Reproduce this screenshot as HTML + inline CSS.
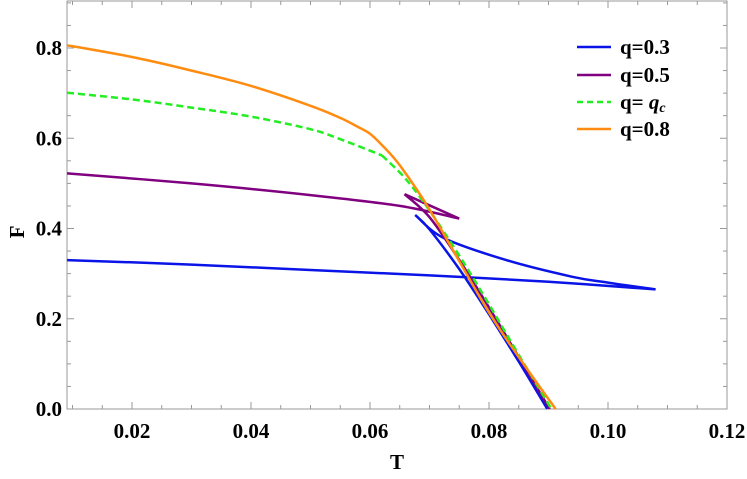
<!DOCTYPE html>
<html><head><meta charset="utf-8"><style>
body{margin:0;background:#fff}
svg text{font-family:"Liberation Serif",serif;font-weight:bold}
</style></head><body>
<svg id="chart" width="747" height="474" viewBox="0 0 747 474" xmlns="http://www.w3.org/2000/svg">
<g id="axes"></g>
<g id="series"></g>
<g id="legend"></g>
<text x="397" y="469" font-size="21" text-anchor="middle">T</text>
<text x="24" y="232" font-size="21" text-anchor="middle" transform="rotate(-90 24 232)">F</text>
</svg>
<script>
const xTicks=[0.02,0.04,0.06,0.08,0.10,0.12];
const xTickLabels=["0.02","0.04","0.06","0.08","0.10","0.12"];
const yTicks=[0,0.2,0.4,0.6,0.8];
const yTickLabels=["0.0","0.2","0.4","0.6","0.8"];
const q03T=[0.0091,0.03,0.05,0.07,0.09,0.108,0.100,0.094,0.0829,0.0724,0.0676,0.070,0.075,0.080,0.085,0.0898];
const q03F=[0.330,0.320,0.308,0.296,0.282,0.265,0.280,0.293,0.330,0.379,0.430,0.398,0.310,0.210,0.105,0.000];
const q03Cusps=[5,10];
const q05T=[0.0091,0.03,0.05,0.065,0.075,0.0658,0.070,0.075,0.080,0.085,0.0902];
const q05F=[0.522,0.500,0.474,0.450,0.422,0.476,0.425,0.330,0.225,0.115,0.000];
const q05Cusps=[4,5];
const qcT=[0.0091,0.02,0.03,0.04,0.05,0.055,0.062,0.066,0.070,0.075,0.080,0.085,0.0905];
const qcF=[0.701,0.686,0.668,0.648,0.620,0.598,0.562,0.510,0.440,0.340,0.232,0.120,0.000];
const qcCusps=[6];
const q08T=[0.0091,0.02,0.03,0.04,0.05,0.055,0.058,0.060,0.062,0.065,0.070,0.0794,0.085,0.0912];
const q08F=[0.806,0.780,0.750,0.716,0.672,0.645,0.625,0.610,0.585,0.540,0.442,0.227,0.115,0.000];
const q08Cusps=[];
const legendLabels=["q=0.3","q=0.5","q= ","q=0.8"];
const NS="http://www.w3.org/2000/svg";
const X0=67,X1=727,Y0=409,YT=1;
function xs(t){return 727-(0.12-t)*5950;}
function ys(f){return 409-f*(409-48)/0.8;}
function mk(tag,attrs,parent){const e=document.createElementNS(NS,tag);for(const k in attrs)e.setAttribute(k,attrs[k]);parent.appendChild(e);return e;}
const ax=document.getElementById('axes');
const frame=mk('rect',{x:X0,y:YT,width:X1-X0,height:Y0-YT,fill:'none',stroke:'#999','stroke-width':1},ax);


for(let i=0;i<xTicks.length;i++){
  const x=xs(xTicks[i]);
  const t=mk('line',{x1:x,x2:x,y1:Y0,y2:Y0-7,stroke:'#999'},ax);
  
  
  const tt=mk('line',{x1:x,x2:x,y1:YT,y2:YT+7,stroke:'#999'},ax);
  
  
  const l=mk('text',{x:x,y:Y0+29,'font-size':21,'text-anchor':'middle'},ax);l.textContent=xTickLabels[i];
  
  
  for(let k=1;k<4;k++){
    const xm=xs(xTicks[i]-0.005*k);
    if(xm>X0){
      const m=mk('line',{x1:xm,x2:xm,y1:Y0,y2:Y0-4,stroke:'#999'},ax);
      
      
      const m2=mk('line',{x1:xm,x2:xm,y1:YT,y2:YT+4,stroke:'#999'},ax);
      
      
    }
  }
}
for(let i=0;i<yTicks.length;i++){
  const y=ys(yTicks[i]);
  const t=mk('line',{x1:X0,x2:X0+7,y1:y,y2:y,stroke:'#999'},ax);
  
  
  const t2=mk('line',{x1:X1,x2:X1-7,y1:y,y2:y,stroke:'#999'},ax);
  
  
  const l=mk('text',{x:X0-5,y:y+7,'font-size':21,'text-anchor':'end'},ax);l.textContent=yTickLabels[i];
  
  
  for(let k=1;k<4;k++){
    const ym=ys(yTicks[i]+0.05*k);
    if(ym>YT){
      const m=mk('line',{x1:X0,x2:X0+4,y1:ym,y2:ym,stroke:'#999'},ax);
      
      
      const m2=mk('line',{x1:X1,x2:X1-4,y1:ym,y2:ym,stroke:'#999'},ax);
      
      
    }
  }
}
const sg=document.getElementById('series');
function crPath(pts){
  let d='M'+pts[0][0].toFixed(1)+','+pts[0][1].toFixed(1);
  for(let i=0;i<pts.length-1;i++){
    const p0=pts[Math.max(0,i-1)],p1=pts[i],p2=pts[i+1],p3=pts[Math.min(pts.length-1,i+2)];
    const c1=[p1[0]+(p2[0]-p0[0])/6,p1[1]+(p2[1]-p0[1])/6];
    const c2=[p2[0]-(p3[0]-p1[0])/6,p2[1]-(p3[1]-p1[1])/6];
    d+='C'+c1[0].toFixed(1)+','+c1[1].toFixed(1)+' '+c2[0].toFixed(1)+','+c2[1].toFixed(1)+' '+p2[0].toFixed(1)+','+p2[1].toFixed(1);
  }
  return d;
}
function series(T,F,cusps,color,dash,name){
  const pts=T.map((t,i)=>[xs(t),ys(F[i])]);
  const br=[0].concat(cusps,[pts.length-1]);
  let d='';
  for(let b=0;b<br.length-1;b++)d+=crPath(pts.slice(br[b],br[b+1]+1));
  const p=mk('path',{d:d,fill:'none',stroke:color,'stroke-width':2.5,'stroke-linejoin':'round'},sg);
  if(dash)p.setAttribute('stroke-dasharray',dash);
  
  
}
series(q03T,q03F,q03Cusps,'#0a14e6',null,'series-q-0-3');
series(q05T,q05F,q05Cusps,'#800080',null,'series-q-0-5');
series(qcT,qcF,qcCusps,'#22ee22','7,4','series-q-c');
series(q08T,q08F,q08Cusps,'#ff8c10',null,'series-q-0-8');
const lg=document.getElementById('legend');
const lc=['#0a14e6','#800080','#22ee22','#ff8c10'];
const ly=[47,75,102,129];
for(let i=0;i<4;i++){
  const ln=mk('line',{x1:577,x2:611,y1:ly[i],y2:ly[i],stroke:lc[i],'stroke-width':2.5},lg);
  if(i===2)ln.setAttribute('stroke-dasharray','6,4');
  
  
  const t=mk('text',{x:620,y:ly[i]+7,'font-size':21},lg);t.textContent=legendLabels[i];
  if(i===2){const ts=mk('tspan',{'font-style':'italic'},t);ts.textContent='q';const sb=mk('tspan',{'font-size':14,dy:3,'font-style':'italic'},t);sb.textContent='c';}
  
  
}
</script>
</body></html>
